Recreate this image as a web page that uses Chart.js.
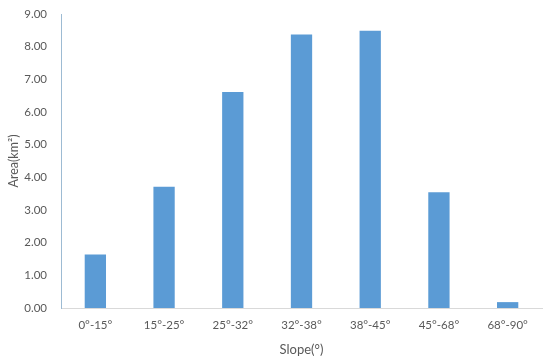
<!DOCTYPE html>
<html><head><meta charset="utf-8">
<script src="https://cdn.jsdelivr.net/npm/chart.js@4/dist/chart.umd.min.js"></script>
<style>html,body{margin:0;padding:0;background:#fff}#wrap{width:550px;height:362px}</style>
</head><body><div id="wrap"><canvas id="c" width="550" height="362"></canvas></div>
<script>
const categories = ["0°-15°","15°-25°","25°-32°","32°-38°","38°-45°","45°-68°","68°-90°"];
const areaValues = [1.64, 3.71, 6.61, 8.37, 8.49, 3.54, 0.18];
const yTitle = "Area(km²)";
const xTitle = "Slope(°)";
const FONT = "Lato, 'Open Sans', sans-serif";
new Chart(document.getElementById('c'), {
  type: 'bar',
  data: { labels: categories, datasets: [{ data: areaValues, backgroundColor: '#5b9bd5', categoryPercentage: 0.31, barPercentage: 1 }] },
  options: {
    responsive: false, animation: false,
    layout: { padding: { left: 0, right: 8, top: 0, bottom: 0 } },
    plugins: { legend: { display: false }, tooltip: { enabled: false } },
    scales: {
      x: {
        grid: { display: false, drawTicks: false },
        border: { color: '#d9d9d9', width: 1 },
        ticks: { color: '#595959', font: { family: FONT, size: 11.5 }, padding: 10, maxRotation: 0 },
        title: { display: true, text: xTitle, color: '#595959', font: { family: FONT, size: 13 }, padding: { top: 4, bottom: 4 } },
        afterFit: s => { s.height = 54; }
      },
      y: {
        min: 0, max: 9,
        grid: { display: false, drawTicks: false },
        border: { color: '#9dbbd3', width: 1 },
        ticks: { stepSize: 1, color: '#595959', font: { family: FONT, size: 11.5 }, padding: 14, callback: v => Number(v).toFixed(2) },
        title: { display: true, text: yTitle, color: '#595959', font: { family: FONT, size: 12.5 }, padding: { top: 6, bottom: 4 } },
        afterFit: s => { s.width = 61; s.paddingTop = 14; }
      }
    }
  }
});
</script></body></html>
